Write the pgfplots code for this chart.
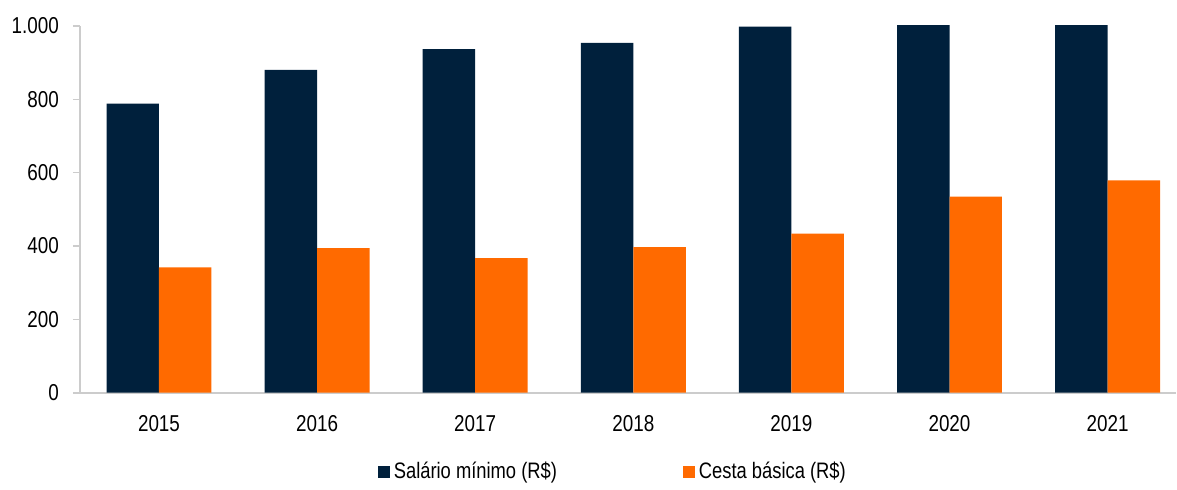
\documentclass[border=0pt]{standalone}
\usepackage{pgfplots}
\pgfplotsset{compat=1.18}
\usepackage{fontspec}
\setmainfont[FakeStretch=0.82]{Liberation Sans}
\definecolor{navy}{RGB}{0,32,60}
\definecolor{laranja}{RGB}{255,106,0}
\begin{document}
\begin{tikzpicture}
\path (-40pt,-46pt) rectangle (548.5pt,196.5pt);
\begin{axis}[
    scale only axis,
    width=548.5pt,
    height=183.5pt,
    at={(0,0)}, anchor=south west,
    ybar=0pt,
    bar width=26.25pt,
    xmin=-0.5, xmax=6.434,
    ymin=0, ymax=1000,
    xtick=data,
    xticklabels={2015,2016,2017,2018,2019,2020,2021},
    ytick={0,200,400,600,800,1000},
    axis lines*=left,
    axis line style={draw=black!20, line width=0.8pt},
    major tick style={draw=black!20, line width=0.8pt},
    major tick length=3.5pt,
    x tick style={draw=none},
    tick align=outside,
    /pgf/number format/.cd, 1000 sep={.}, assume math mode=true,
    /pgfplots/.cd,
    tick label style={font=\fontsize{11.5}{13}\selectfont},
    yticklabel style={xshift=-3.5pt},
    xticklabel style={yshift=-4.5pt},
    legend style={
        at={(0.487,-0.216)}, anchor=center,
        draw=none, font=\fontsize{11.2}{13}\selectfont,
        legend columns=2,
        /tikz/every even column/.append style={column sep=61pt},
    },
    legend image code/.code={\fill[#1] (0pt,-3pt) rectangle (6pt,3pt);},
    clip=true,
]
\addplot[fill=navy, draw=none] coordinates {
(0,788) (1,880) (2,937) (3,954) (4,998) (5,1045) (6,1100)
};
\addplot[fill=laranja, draw=none] coordinates {
(0,342) (1,394) (2,367) (3,397) (4,434) (5,535) (6,579)
};
\legend{Salário mínimo (R\$), Cesta básica (R\$)}
\end{axis}
\end{tikzpicture}
\end{document}
